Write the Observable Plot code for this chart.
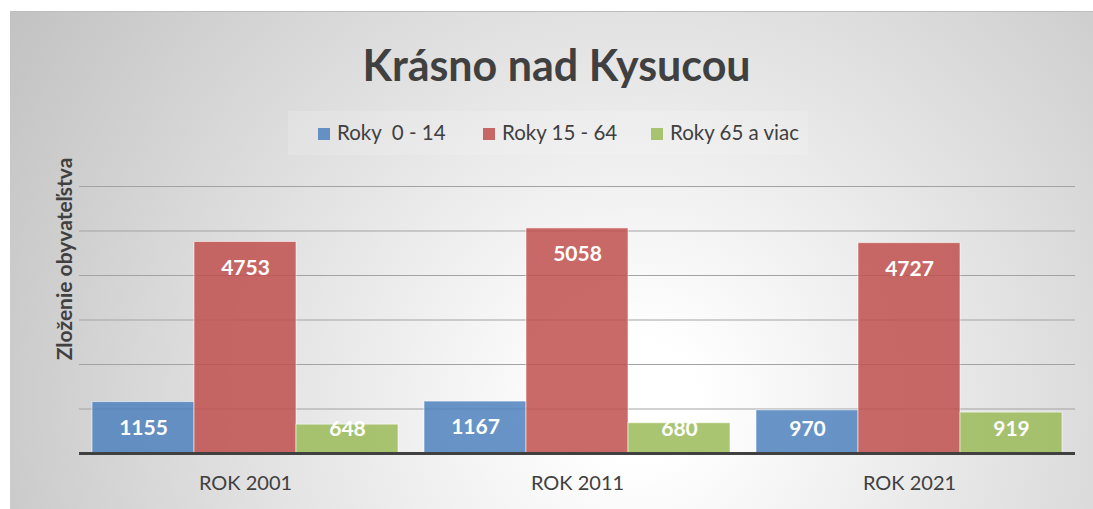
<!DOCTYPE html>
<html>
<head>
<meta charset="utf-8">
<script src="https://cdn.jsdelivr.net/npm/d3@7"></script>
<script src="https://cdn.jsdelivr.net/npm/@observablehq/plot@0.6"></script>
<style>
  html, body { margin:0; padding:0; background:#fff; width:1093px; height:509px; overflow:hidden; }
  #frame { position:absolute; left:10px; top:11px; width:1083px; height:498px;
    border-top:1px solid #bdbdbd;
    background: radial-gradient(circle farthest-corner at 58% 78%, #ffffff 0%, #ffffff 8%, #c2c2c2 100%); }
  #title { position:absolute; left:0; top:39px; width:1113px; text-align:center;
    font-family:Lato, sans-serif; font-weight:bold; font-size:43px; color:#404040; line-height:52px; }
  #legend { position:absolute; left:288px; top:111px; width:520px; height:44px;
    background: rgba(255,255,255,0.15); font-family:Lato, sans-serif; font-size:20.5px; color:#404040; }
  .li { position:absolute; top:9px; white-space:pre; line-height:24px; }
  .sw { display:inline-block; width:12px; height:12px; margin-right:7px; vertical-align:0px; }
  #ylab { position:absolute; left:63px; top:259px; transform: translate(-50%,-50%) rotate(-90deg);
    font-family:Lato, sans-serif; font-weight:bold; font-size:21px; color:#404040; white-space:nowrap; }
  #chart { position:absolute; left:0; top:150px; }
</style>
</head>
<body>
<div id="frame"></div>
<div id="title">Krásno nad Kysucou</div>
<div id="legend"></div>
<div id="ylab">Zloženie obyvateľstva</div>
<div id="chart"></div>
<script>
const years = ["2001", "2011", "2021"];
const groups = ["Roky  0 - 14", "Roky 15 - 64", "Roky 65 a viac"];
const values0_14 = [1155, 1167, 970];
const values15_64 = [4753, 5058, 4727];
const values65 = [648, 680, 919];
const yTicks = [1000, 2000, 3000, 4000, 5000, 6000];
const colors = ["#4f81bd", "#c0504d", "#9bbb59"];

const series = [values0_14, values15_64, values65];
const table = [];
years.forEach((yr, i) => groups.forEach((g, j) => table.push({year: yr, group: g, value: series[j][i]})));

// legend
const legend = document.getElementById("legend");
const legendX = [30, 195, 363];
groups.forEach((g, j) => {
  const el = document.createElement("div");
  el.className = "li";
  el.style.left = legendX[j] + "px";
  el.innerHTML = `<span class="sw" style="background:${colors[j]};opacity:0.85"></span>` + g;
  legend.appendChild(el);
});

const chart = Plot.plot({
  width: 1093,
  height: 359,
  marginLeft: 78,
  marginRight: 17,
  marginTop: 36,
  marginBottom: 56,
  style: {background: "transparent", overflow: "visible", fontFamily: "Lato, sans-serif", fontSize: "20px", color: "#404040"},
  fx: {domain: years, padding: 0, label: null, axis: "bottom", tickSize: 0, tickPadding: 22, tickFormat: d => "ROK " + d},
  x: {domain: groups, paddingInner: 0, paddingOuter: 0.125, axis: null},
  y: {domain: [0, 6000], axis: null},
  color: {domain: groups, range: colors},
  marks: [
    Plot.ruleY(yTicks, {stroke: "#a3a3a3", strokeWidth: 1}),
    Plot.barY(table, {fx: "year", x: "group", y: "value", fill: "group", fillOpacity: 0.85, stroke: "#ffffff", strokeOpacity: 0.55, strokeWidth: 1}),
    Plot.ruleY([0], {stroke: "#404040", strokeWidth: 3}),
    Plot.text(table, {fx: "year", x: "group", y: d => Math.max(d.value - 584, 540), text: d => String(d.value),
      fill: "white", fontWeight: "bold", fontSize: 21})
  ]
});
document.getElementById("chart").appendChild(chart);
</script>
</body>
</html>
